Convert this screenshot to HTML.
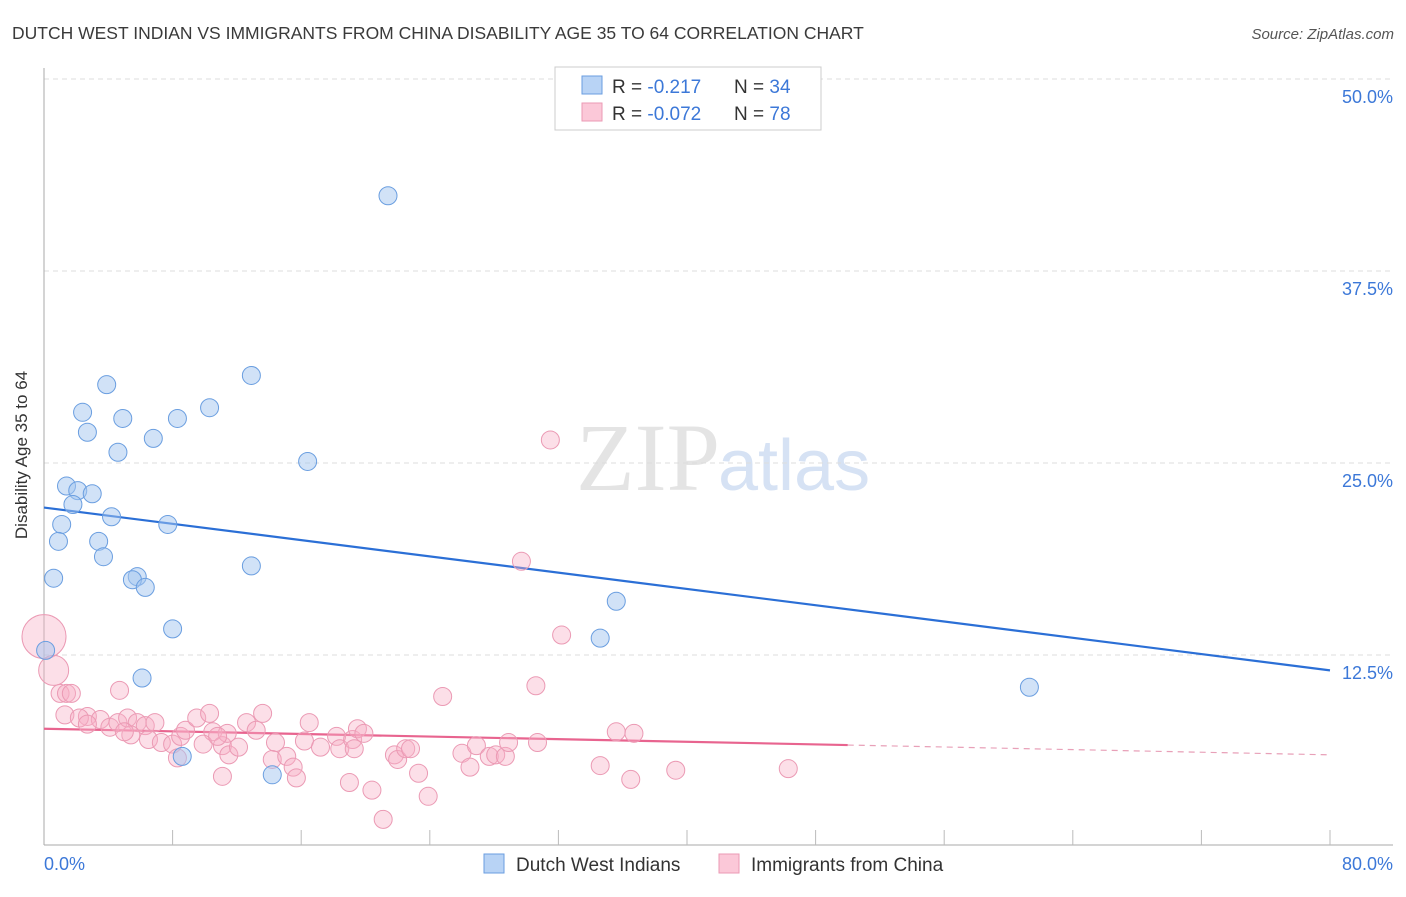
<!DOCTYPE html>
<html><head><meta charset="utf-8"><style>
body{margin:0;background:#fff;font-family:"Liberation Sans",sans-serif}
</style></head><body>
<svg width="1406" height="892" xmlns="http://www.w3.org/2000/svg" font-family="Liberation Sans, sans-serif">
<text x="12" y="39" font-size="17.5" fill="#3a3a3a">DUTCH WEST INDIAN VS IMMIGRANTS FROM CHINA DISABILITY AGE 35 TO 64 CORRELATION CHART</text>
<text x="1394" y="39" font-size="15" fill="#555" font-style="italic" text-anchor="end">Source: ZipAtlas.com</text>
<text x="720" y="490" font-size="96" fill="#e4e4e4" text-anchor="end" font-family="Liberation Serif, serif">ZIP</text>
<text x="718" y="490" font-size="72" fill="#d6e2f4">atlas</text>
<g id="grid"></g><g id="axes"></g><g id="lines"></g><g id="pts"></g>
<text x="27" y="455" font-size="17" fill="#333" text-anchor="middle" transform="rotate(-90 27 455)">Disability Age 35 to 64</text>
<text x="44" y="870" font-size="18" fill="#3c78d8">0.0%</text>
<text x="1393" y="870" font-size="18" fill="#3c78d8" text-anchor="end">80.0%</text>
<g>
<rect x="555" y="67" width="266" height="63" fill="#fff" stroke="#ccc"/>
<rect x="582" y="76" width="20" height="18" fill="#b8d3f5" stroke="#6a9ee0"/>
<rect x="582" y="103" width="20" height="18" fill="#fbc8d8" stroke="#eb9ab4"/>
<text x="612" y="93" font-size="19" fill="#333">R = <tspan fill="#3c78d8">-0.217</tspan><tspan x="734">N = </tspan><tspan fill="#3c78d8">34</tspan></text>
<text x="612" y="120" font-size="19" fill="#333">R = <tspan fill="#3c78d8">-0.072</tspan><tspan x="734">N = </tspan><tspan fill="#3c78d8">78</tspan></text>
</g>
<g>
<rect x="484" y="854" width="20" height="19" fill="#b8d3f5" stroke="#6a9ee0"/>
<text x="516" y="871" font-size="19" fill="#333">Dutch West Indians</text>
<rect x="719" y="854" width="20" height="19" fill="#fbc8d8" stroke="#eb9ab4"/>
<text x="751" y="871" font-size="19" fill="#333">Immigrants from China</text>
</g>
</svg>
<script>
const yTicks=[12.5,25,37.5,50];
const yTickLabels=["12.5%","25.0%","37.5%","50.0%"];
const blueX=[21.4,12.9,3.9,2.4,10.3,4.9,8.3,2.7,6.8,4.6,16.4,1.4,2.1,3.0,1.8,4.2,7.7,1.1,0.9,3.4,3.7,12.9,0.6,5.8,5.5,6.3,35.6,8.0,34.6,0.1,6.1,8.6,14.2,61.3];
const blueY=[42.4,30.7,30.1,28.3,28.6,27.9,27.9,27.0,26.6,25.7,25.1,23.5,23.2,23.0,22.3,21.5,21.0,21.0,19.9,19.9,18.9,18.3,17.5,17.6,17.4,16.9,16.0,14.2,13.6,12.8,11.0,5.9,4.7,10.4];
const pinkX=[0,0.6,1.0,1.4,1.7,4.7,1.3,2.7,3.5,2.2,2.7,4.1,4.6,5.2,5.8,6.3,5.4,5.0,6.9,6.5,7.3,8.0,8.5,8.8,9.5,10.3,10.5,9.9,11.1,11.5,11.4,10.8,13.6,12.6,13.2,12.1,14.4,14.2,15.1,15.5,15.7,11.1,16.2,16.5,17.2,18.2,18.4,19.2,19.5,19.9,19.3,19.0,20.4,21.1,21.8,22.0,22.5,22.8,23.3,23.9,24.8,26.0,26.5,26.9,27.7,28.1,28.7,28.9,30.7,30.6,31.5,29.7,32.2,34.6,35.6,36.5,36.7,39.3,46.3,8.3];
const pinkY=[13.7,11.5,10.0,10.0,10.0,10.2,8.6,8.5,8.3,8.4,8.0,7.8,8.1,8.4,8.1,7.9,7.3,7.5,8.1,7.0,6.8,6.7,7.2,7.6,8.4,8.7,7.5,6.7,6.6,6.0,7.4,7.2,8.7,8.1,7.6,6.5,6.8,5.7,5.9,5.2,4.5,4.6,6.9,8.1,6.5,7.2,6.4,7.0,7.7,7.4,6.4,4.2,3.7,1.8,6.0,5.7,6.4,6.4,4.8,3.3,9.8,6.1,5.2,6.6,5.9,6.0,5.9,6.8,6.8,10.5,26.5,18.6,13.8,5.3,7.5,4.4,7.4,5.0,5.1,5.8];
const pinkR=[22,15];
const blueTrend=[22.1,11.5];
const pinkTrend=[7.7,6.0];
const ns="http://www.w3.org/2000/svg";
const X=v=>44+v*1286/80, Y=v=>847-v*15.36;
function mk(t,a,p){const e=document.createElementNS(ns,t);for(const k in a)e.setAttribute(k,a[k]);document.getElementById(p).appendChild(e);return e;}
yTicks.forEach((t,i)=>{
 const g=mk('line',{x1:44,x2:1393,y1:Y(t),y2:Y(t),stroke:'#ddd','stroke-dasharray':'5,4'},'grid');
 
 
 const l=mk('text',{x:1393,y:Y(t)+24,'font-size':18,fill:'#3c78d8','text-anchor':'end'},'grid');
 l.textContent=yTickLabels[i];
 
 
});
let a=mk('line',{x1:44,x2:44,y1:68,y2:845,stroke:'#aaa'},'axes');


a=mk('line',{x1:44,x2:1393,y1:845,y2:845,stroke:'#aaa'},'axes');


for(let i=1;i<=10;i++){const t=mk('line',{x1:X(i*8),x2:X(i*8),y1:830,y2:845,stroke:'#bbb'},'axes');
 
 }
let ln=mk('line',{x1:X(0),y1:Y(blueTrend[0]),x2:X(80),y2:Y(blueTrend[1]),stroke:'#2b6fd6','stroke-width':2.2},'lines');


const pAt=x=>pinkTrend[0]+(pinkTrend[1]-pinkTrend[0])*x/80;
ln=mk('line',{x1:X(0),y1:Y(pAt(0)),x2:X(50),y2:Y(pAt(50)),stroke:'#e8648f','stroke-width':2.2},'lines');


ln=mk('line',{x1:X(50),y1:Y(pAt(50)),x2:X(80),y2:Y(pAt(80)),stroke:'#e8a0b8','stroke-width':1.2,'stroke-dasharray':'6,5'},'lines');


pinkX.forEach((x,i)=>{const c=mk('circle',{cx:X(x),cy:Y(pinkY[i]),r:pinkR[i]||9,fill:'rgba(248,175,198,0.4)',stroke:'#eb9ab4','stroke-width':1},'pts');
 
 });
blueX.forEach((x,i)=>{const c=mk('circle',{cx:X(x),cy:Y(blueY[i]),r:9,fill:'rgba(164,198,240,0.5)',stroke:'#6a9ee0','stroke-width':1},'pts');
 
 });
</script>
</body></html>
